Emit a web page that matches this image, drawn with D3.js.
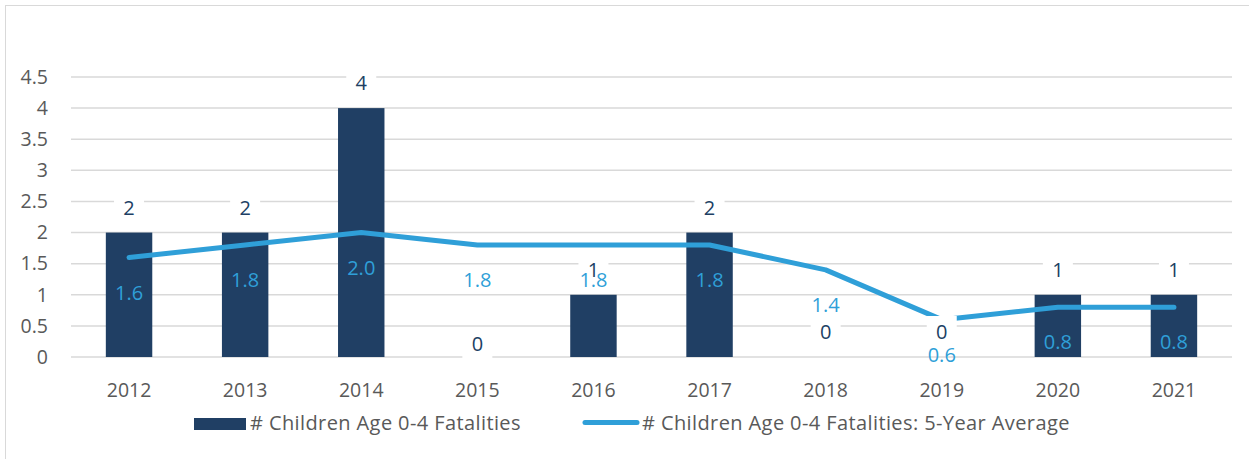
<!DOCTYPE html>
<html>
<head>
<meta charset="utf-8">
<script src="https://cdn.jsdelivr.net/npm/d3@7"></script>
<style>
  body { margin: 0; background: #fff; }
  text { font-family: "Open Sans", Lato, sans-serif; }
</style>
</head>
<body>
<div class="canva"></div>
<script>
// chart data
const years = ["2012","2013","2014","2015","2016","2017","2018","2019","2020","2021"];
const fatalities = [2, 2, 4, 0, 1, 2, 0, 0, 1, 1];
const fiveYearAvg = [1.6, 1.8, 2.0, 1.8, 1.8, 1.8, 1.4, 0.6, 0.8, 0.8];
const yTicks = [0, 0.5, 1, 1.5, 2, 2.5, 3, 3.5, 4, 4.5];

const barColor = "#203f64";
const lineColor = "#2f9fd8";
const axisText = "#595959";

const svg = d3.select(".canva").append("svg")
  .attr("width", 1249)
  .attr("height", 459);

// outer border (only top/left visible in the crop)
svg.append("rect")
  .attr("x", 5.5).attr("y", 5.5)
  .attr("width", 1260).attr("height", 470)
  .attr("fill", "none")
  .attr("stroke", "#d9d9d9");

const margin = {top: 77, left: 71, right: 17, bottom: 102};
const graphWidth = 1249 - margin.left - margin.right;
const graphHeight = 459 - margin.top - margin.bottom;

const g = svg.append("g")
  .attr("transform", `translate(${margin.left}, ${margin.top})`);

const x = d3.scaleBand()
  .domain(years)
  .range([0, graphWidth]);

const y = d3.scaleLinear()
  .domain([0, 4.5])
  .range([graphHeight, 0]);

// gridlines
g.selectAll(".grid")
  .data(yTicks)
  .enter()
  .append("line")
  .attr("x1", 0).attr("x2", graphWidth)
  .attr("y1", d => y(d)).attr("y2", d => y(d))
  .attr("stroke", "#d9d9d9")
  .attr("stroke-width", 1.5);

// y axis labels
const yAxis = d3.axisLeft(y).tickValues(yTicks).tickSize(0).tickPadding(23)
  .tickFormat(d => d);
g.append("g").call(yAxis)
  .call(a => a.select(".domain").remove())
  .selectAll("text")
  .attr("fill", axisText)
  .style("font-size", "19.5px");

// x axis labels
const xAxis = d3.axisBottom(x).tickSize(0).tickPadding(26);
g.append("g")
  .attr("transform", `translate(0, ${graphHeight})`)
  .call(xAxis)
  .call(a => a.select(".domain").remove())
  .selectAll("text")
  .attr("fill", axisText)
  .style("font-size", "19.5px");

const barW = x.bandwidth() * 0.4;

// bars
g.selectAll(".bar")
  .data(fatalities)
  .enter()
  .append("rect")
  .attr("x", (d, i) => x(years[i]) + (x.bandwidth() - barW) / 2)
  .attr("y", d => y(d))
  .attr("width", barW)
  .attr("height", d => graphHeight - y(d))
  .attr("fill", barColor);

// average line
const line = d3.line()
  .x((d, i) => x(years[i]) + x.bandwidth() / 2)
  .y(d => y(d));

g.append("path")
  .datum(fiveYearAvg)
  .attr("d", line)
  .attr("fill", "none")
  .attr("stroke", lineColor)
  .attr("stroke-width", 5)
  .attr("stroke-linecap", "round")
  .attr("stroke-linejoin", "round");

// bar value labels with white boxes (2015 label sits a bit lower in the original)
const labelDrop = {"2015": 12};
const barLabels = g.selectAll(".barLabel")
  .data(fatalities)
  .enter()
  .append("g")
  .attr("transform", (d, i) =>
    `translate(${x(years[i]) + x.bandwidth() / 2}, ${y(d) - 25 + (labelDrop[years[i]] || 0)})`);

barLabels.append("rect")
  .attr("x", -15).attr("y", -16)
  .attr("width", 30).attr("height", 32)
  .attr("fill", "#fff");

barLabels.append("text")
  .attr("text-anchor", "middle")
  .attr("dy", "0.36em")
  .attr("fill", barColor)
  .style("font-size", "20px")
  .text(d => d);

// line value labels
g.selectAll(".lineLabel")
  .data(fiveYearAvg)
  .enter()
  .append("text")
  .attr("x", (d, i) => x(years[i]) + x.bandwidth() / 2)
  .attr("y", d => y(d) + 35)
  .attr("text-anchor", "middle")
  .attr("dy", "0.36em")
  .attr("fill", lineColor)
  .style("font-size", "20px")
  .text(d => d.toFixed(1));

// legend
const legend = svg.append("g");
legend.append("rect")
  .attr("x", 194).attr("y", 418)
  .attr("width", 52).attr("height", 12)
  .attr("fill", barColor);
legend.append("text")
  .attr("x", 250).attr("y", 430)
  .attr("fill", axisText)
  .style("font-size", "20px")
  .style("letter-spacing", "0.4px")
  .text("# Children Age 0-4 Fatalities");

legend.append("line")
  .attr("x1", 585).attr("x2", 637)
  .attr("y1", 422.5).attr("y2", 422.5)
  .attr("stroke", lineColor)
  .attr("stroke-width", 5)
  .attr("stroke-linecap", "round");
legend.append("text")
  .attr("x", 642).attr("y", 430)
  .attr("fill", axisText)
  .style("font-size", "20px")
  .style("letter-spacing", "0.4px")
  .text("# Children Age 0-4 Fatalities: 5-Year Average");
</script>
</body>
</html>
